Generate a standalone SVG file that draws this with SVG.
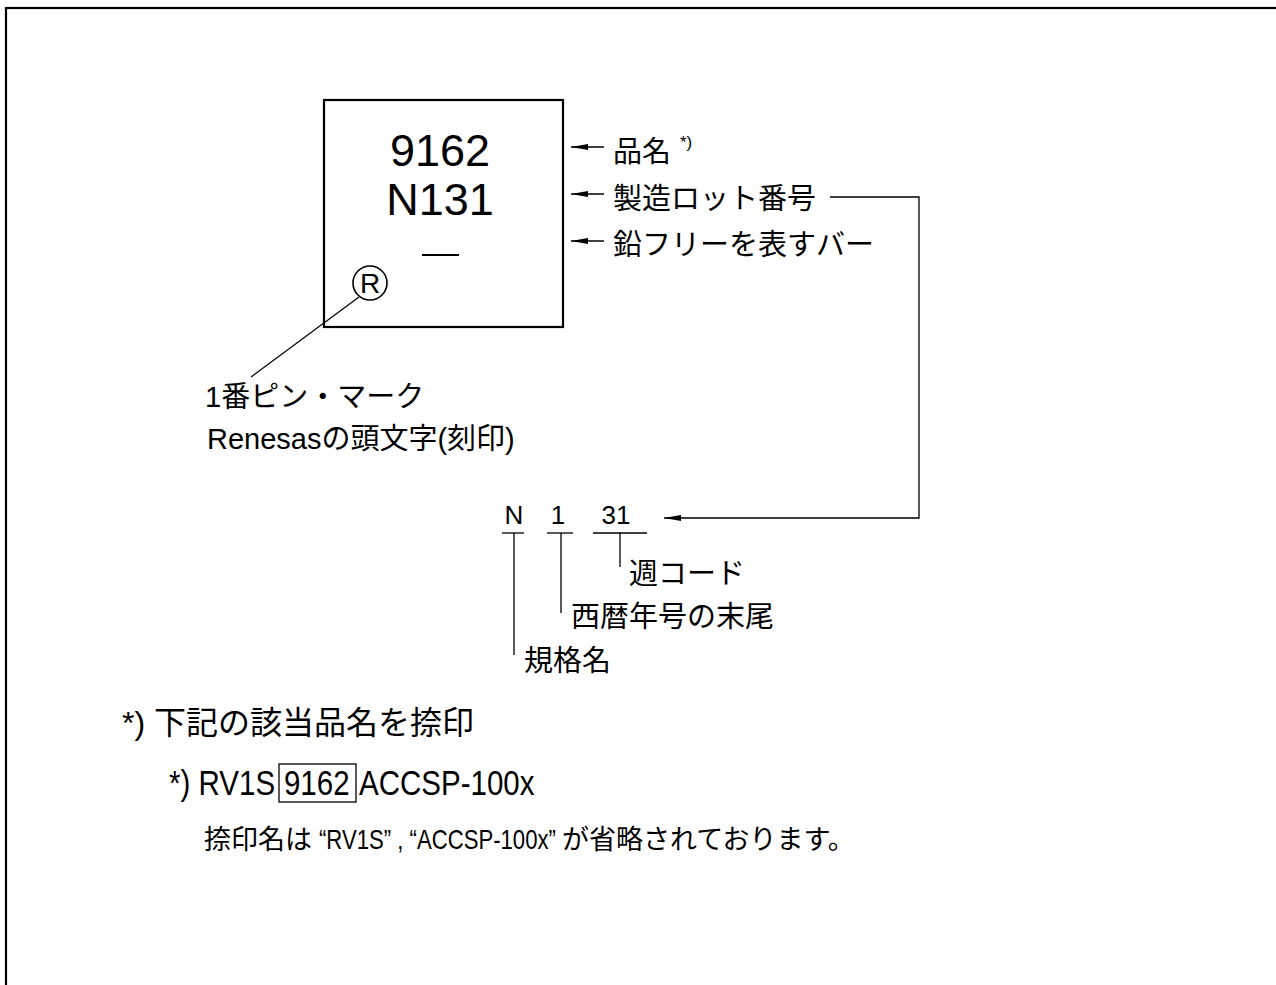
<svg xmlns="http://www.w3.org/2000/svg" width="1276" height="985" viewBox="0 0 1276 985">
<style>
text{font-family:"Liberation Sans","Noto Sans CJK JP",sans-serif;fill:#000}
.lbl{font-size:29px}
.big{font-size:45px}
.ln{stroke:#000;stroke-width:1.3;fill:none}
.n36{font-size:36px}
</style>
<defs>
<marker id="ah" viewBox="0 0 17 8" refX="17" refY="4" markerWidth="17" markerHeight="8" markerUnits="userSpaceOnUse" orient="auto">
<path d="M17,4 L0,1 L0,7 Z" fill="#000"/>
</marker>
</defs>
<rect x="6" y="8" width="1290" height="1000" fill="#fff" stroke="#000" stroke-width="2.2"/>
<g id="chip">
<rect x="324" y="100" width="239" height="227" fill="none" stroke="#000" stroke-width="2.2"/>
<text class="big" x="440" y="166" text-anchor="middle">9162</text>
<text class="big" x="440" y="215" text-anchor="middle">N131</text>
<line x1="422" y1="255" x2="459" y2="255" stroke="#000" stroke-width="2"/>
<circle cx="370" cy="283" r="17" fill="none" stroke="#000" stroke-width="1.6"/>
<text x="370" y="293" text-anchor="middle" font-size="28">R</text>
</g>
<g id="label-hinmei">
<text class="lbl" x="613" y="162">品名</text>
<text x="680" y="148" font-size="17">*)</text>
</g>
<g id="label-lot">
<text class="lbl" x="613" y="209">製造ロット番号</text>
</g>
<g id="label-pbfree">
<text class="lbl" x="613" y="255">鉛フリーを表すバー</text>
</g>
<g id="label-pin1">
<text class="lbl" x="205" y="407">1番ピン・マーク</text>
<text class="lbl" x="207" y="449">Renesasの頭文字(刻印)</text>
</g>
<g id="code">
<text font-size="26" x="514" y="524" text-anchor="middle">N</text>
<text font-size="26" x="558" y="524" text-anchor="middle">1</text>
<text font-size="26" x="616" y="524" text-anchor="middle">31</text>
</g>
<g id="label-week"><text class="lbl" x="629" y="584">週コード</text></g>
<g id="label-year"><text class="lbl" x="571" y="627">西暦年号の末尾</text></g>
<g id="label-std"><text class="lbl" x="524" y="671">規格名</text></g>
<g id="note">
<text font-size="32" x="122" y="734">*) 下記の該当品名を捺印</text>
<g transform="translate(169,795) scale(0.82,1)">
<text class="n36" x="0" y="0">*) RV1S</text>
<text class="n36" x="140.2" y="0">9162</text>
<text class="n36" x="231.7" y="0">ACCSP-100x</text>
</g>
<rect x="279" y="764" width="77" height="38" fill="none" stroke="#000" stroke-width="1.3"/>
<text font-size="27" x="204" y="849">捺印名は</text>
<text font-size="27" transform="translate(319,849) scale(0.82,1)" x="0" y="0">“RV1S” , “ACCSP-100x”</text>
<text font-size="27" x="562" y="849">が省略されております。</text>
</g>
<g id="connectors">
<line class="ln" x1="604" y1="147" x2="571" y2="147" marker-end="url(#ah)"/>
<line class="ln" x1="604" y1="194" x2="571" y2="194" marker-end="url(#ah)"/>
<line class="ln" x1="604" y1="241" x2="571" y2="241" marker-end="url(#ah)"/>
<polyline class="ln" points="830,197 919,197 919,518 664,518" marker-end="url(#ah)"/>
<line class="ln" x1="359" y1="297" x2="251" y2="377"/>
<line class="ln" x1="502" y1="533" x2="524" y2="533"/>
<line class="ln" x1="547" y1="533" x2="573" y2="533"/>
<line class="ln" x1="593" y1="533" x2="647" y2="533"/>
<line class="ln" x1="514" y1="533" x2="514" y2="655"/>
<line class="ln" x1="561" y1="533" x2="561" y2="613"/>
<line class="ln" x1="620" y1="533" x2="620" y2="567"/>
</g>
</svg>
